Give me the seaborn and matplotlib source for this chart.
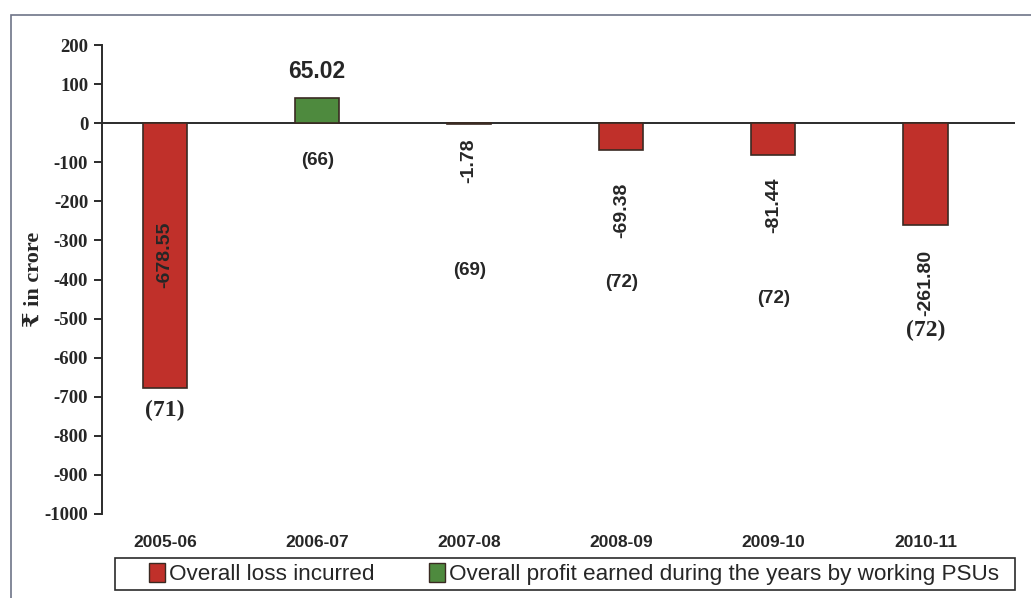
import pandas as pd
import matplotlib.pyplot as plt
import matplotlib.patches as mpatches
import seaborn as sns

sns.set_style("white")
plt.rcParams["axes.unicode_minus"] = False

# ----------------------------------
# Data
# ----------------------------------
years = ["2005-06", "2006-07", "2007-08", "2008-09", "2009-10", "2010-11"]
values = [-678.55, 65.02, -1.78, -69.38, -81.44, -261.80]
psu_counts = ["(71)", "(66)", "(69)", "(72)", "(72)", "(72)"]
loss_name = "Overall loss incurred"
profit_name = "Overall profit earned during the years by working PSUs"

df = pd.DataFrame({
    "Year": years,
    "Value": values,
    "Series": [profit_name if v > 0 else loss_name for v in values],
})

# label placement (y in data units), kept apart from the data
value_label_y = [-338, 131, -95, -223, -210, -408]
count_label_y = [-736, -95, -377, -408, -449, -531]
count_serif = [True, False, False, False, False, True]

red = "#C0302A"
green = "#4E8A3E"
edge = "#3a2a22"
txt = "#262626"
serif = ["Liberation Serif", "DejaVu Serif"]
sans = ["Liberation Sans", "DejaVu Sans"]

fig = plt.figure(figsize=(10.31, 5.98), dpi=100)
ax = fig.add_axes([0.099, 0.1405, 0.885, 0.7842])

sns.barplot(
    data=df, x="Year", y="Value", hue="Series",
    hue_order=[loss_name, profit_name],
    palette={loss_name: red, profit_name: green},
    dodge=False, width=0.29, saturation=1, edgecolor=edge, linewidth=1.2, ax=ax,
)

ax.set_ylim(-1000, 200)
ax.set_yticks(range(-1000, 201, 100))
ax.set_xlim(-0.414, 5.585)
ax.axhline(0, color="#2b2b2b", lw=1.4, zorder=0.5)

for s in ["top", "right", "bottom"]:
    ax.spines[s].set_visible(False)
ax.spines["left"].set_color("#2b2b2b")
ax.spines["left"].set_linewidth(1.4)
ax.tick_params(axis="y", which="major", left=True, length=6, width=1.4, color="#2b2b2b", pad=4)
ax.tick_params(axis="x", length=0, pad=15)

for lab in ax.get_yticklabels():
    lab.set_fontfamily(serif)
    lab.set_fontweight("bold")
    lab.set_fontsize(13.5)
    lab.set_color(txt)
for lab in ax.get_xticklabels():
    lab.set_fontfamily(sans)
    lab.set_fontweight("bold")
    lab.set_fontsize(12.5)
    lab.set_color(txt)

ax.set_xlabel("")
ax.set_ylabel("₹ in crore", fontfamily=serif, fontweight="bold", fontsize=16, color=txt)
ax.yaxis.set_label_coords(-0.064, 0.5)

# value labels
for i, (v, ly) in enumerate(zip(values, value_label_y)):
    if v > 0:
        ax.text(i, ly, f"{v:.2f}", ha="center", va="center", fontsize=16.5,
                fontweight="bold", fontfamily=sans, color=txt)
    else:
        ax.text(i, ly, f"{v:.2f}", ha="center", va="center", rotation=90,
                fontsize=14, fontweight="bold", fontfamily=sans, color=txt)

# number of PSUs in brackets
for i, (c, ly, is_serif) in enumerate(zip(psu_counts, count_label_y, count_serif)):
    ax.text(i, ly, c, ha="center", va="center",
            fontsize=17 if is_serif else 13.5, fontweight="bold",
            fontfamily=serif if is_serif else sans, color=txt)

# legend below the plot (frame drawn separately so it can be wider than its content)
handles = [mpatches.Patch(facecolor=red, edgecolor=edge, label=loss_name),
           mpatches.Patch(facecolor=green, edgecolor=edge, label=profit_name)]
ax.legend(handles=handles, loc="center", bbox_to_anchor=(0.557, 0.04), ncol=2,
          bbox_transform=fig.transFigure, frameon=False,
          handlelength=0.7, handleheight=0.9,
          handletextpad=0.2, columnspacing=2.4, borderpad=0.3, borderaxespad=0,
          prop={"family": sans, "size": 16.2})
fig.patches.append(mpatches.Rectangle((0.1115, 0.0134), 0.873, 0.0535,
                                      transform=fig.transFigure, fill=False,
                                      edgecolor="#2b2b2b", lw=1.2))

# outer frame of the figure
fig.patches.append(mpatches.Rectangle((0.0107, -0.01), 0.99, 0.985,
                                      transform=fig.transFigure, fill=False,
                                      edgecolor="#6e7488", lw=1.2))

fig.savefig("out.png", dpi=100)
